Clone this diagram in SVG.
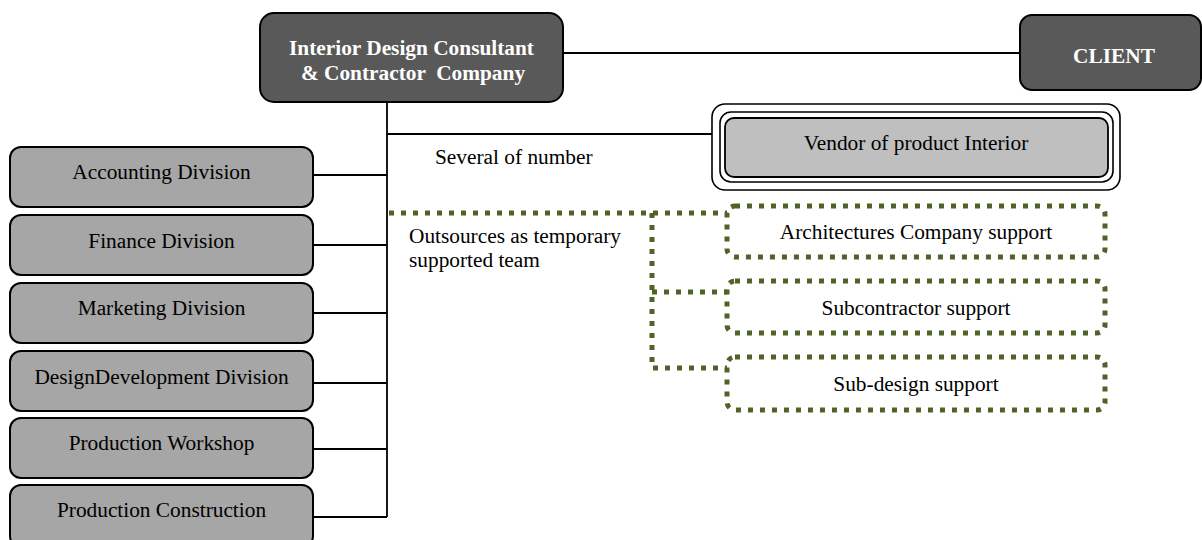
<svg xmlns="http://www.w3.org/2000/svg" width="1202" height="540" viewBox="0 0 1202 540">
<style>
text{font-family:"Liberation Serif","Times New Roman",serif;font-size:21.33px;fill:#000;text-anchor:middle}
.dark{fill:#595959;stroke:#000;stroke-width:2}
.div{fill:#a6a6a6;stroke:#000;stroke-width:2}
.w{fill:#fff;font-weight:bold}
.ln{stroke:#000;stroke-width:1.8;fill:none}
.dot{stroke:#4f6228;stroke-width:5;stroke-dasharray:5 7;fill:none}
.l{text-anchor:start}
</style>
<rect width="1202" height="540" fill="#fff"/>
<g id="connectors">
<line class="ln" x1="563" y1="53" x2="1020" y2="53"/>
<line class="ln" x1="387" y1="102" x2="387" y2="517"/>
<line class="ln" x1="387" y1="134" x2="725" y2="134"/>
<line class="ln" x1="313" y1="175" x2="387" y2="175"/>
<line class="ln" x1="313" y1="245" x2="387" y2="245"/>
<line class="ln" x1="313" y1="313" x2="387" y2="313"/>
<line class="ln" x1="313" y1="383" x2="387" y2="383"/>
<line class="ln" x1="313" y1="449" x2="387" y2="449"/>
<line class="ln" x1="313" y1="517" x2="387" y2="517"/>
<polyline class="dot" points="389,213 727,213"/>
<polyline class="dot" points="652,213 652,368 727,368"/>
<polyline class="dot" points="652,292 727,292"/>
</g>
<g id="main">
<rect class="dark" x="260" y="13" width="303" height="89" rx="14"/>
<text class="w" x="411.5" y="54.5">Interior Design Consultant</text>
<text class="w" x="413" y="80" xml:space="preserve">&amp; Contractor  Company</text>
</g>
<g id="client">
<rect class="dark" x="1020" y="15" width="181" height="75" rx="12"/>
<text class="w" x="1114" y="63">CLIENT</text>
</g>
<g id="vendor">
<rect x="712" y="104" width="408" height="86" rx="13" fill="#fff" stroke="#000" stroke-width="1.6"/>
<rect x="720" y="112" width="393" height="70" rx="11" fill="#fff" stroke="#000" stroke-width="1.6"/>
<rect x="725" y="118" width="383" height="59" rx="9" fill="#bfbfbf" stroke="#000" stroke-width="1.8"/>
<text x="916" y="150">Vendor of product Interior</text>
</g>
<g id="label-several">
<text class="l" x="435" y="164">Several of number</text>
</g>
<g id="label-outsources">
<text class="l" x="409" y="243">Outsources as temporary</text>
<text class="l" x="409" y="267">supported team</text>
</g>
<g id="architectures">
<rect class="dot" x="727" y="206" width="378" height="51" rx="8"/>
<text x="916" y="239">Architectures Company support</text>
</g>
<g id="subcontractor">
<rect class="dot" x="727" y="281" width="378" height="52" rx="8"/>
<text x="916" y="315">Subcontractor support</text>
</g>
<g id="subdesign">
<rect class="dot" x="727" y="357" width="378" height="53" rx="8"/>
<text x="916" y="391">Sub-design support</text>
</g>
<g id="accounting">
<rect class="div" x="10" y="147" width="303" height="60" rx="11"/>
<text x="161.5" y="179">Accounting Division</text>
</g>
<g id="finance">
<rect class="div" x="10" y="215" width="303" height="60" rx="11"/>
<text x="161.5" y="248">Finance Division</text>
</g>
<g id="marketing">
<rect class="div" x="10" y="283" width="303" height="60" rx="11"/>
<text x="161.5" y="315">Marketing Division</text>
</g>
<g id="designdev">
<rect class="div" x="10" y="351" width="303" height="60" rx="11"/>
<text x="161.5" y="384">DesignDevelopment Division</text>
</g>
<g id="workshop">
<rect class="div" x="10" y="418" width="303" height="60" rx="11"/>
<text x="161.5" y="450">Production Workshop</text>
</g>
<g id="construction">
<rect class="div" x="10" y="485" width="303" height="62" rx="11"/>
<text x="161.5" y="517">Production Construction</text>
</g>
</svg>
